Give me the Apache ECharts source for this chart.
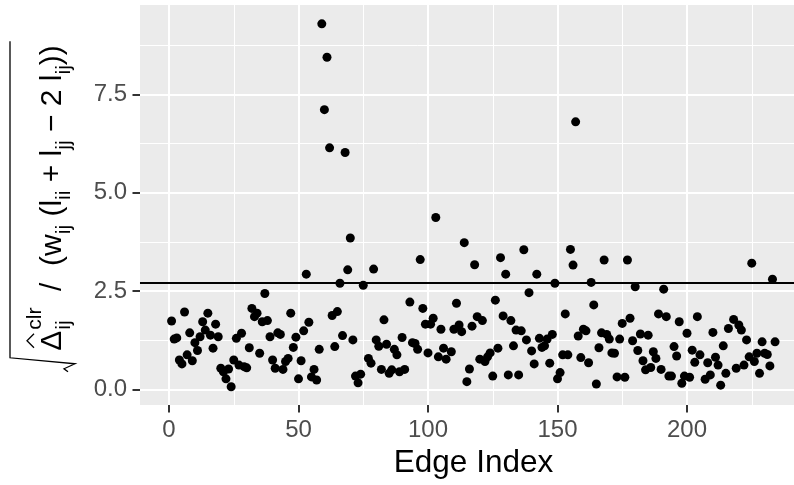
<!DOCTYPE html>
<html>
<head>
<meta charset="utf-8">
<script src="https://cdn.jsdelivr.net/npm/echarts@6/dist/echarts.min.js"></script>
<style>
  html, body { margin: 0; padding: 0; background: #fff; }
  #main { width: 794px; height: 485px; }
</style>
</head>
<body>
<div id="main"></div>
<script>
// values, one per edge index (1..234); null = not visible
const deltaValues = [
  1.74, 1.28, 1.31, 0.75, 0.65, 1.97, 0.88, 1.44, 0.73, 1.19,
  0.99, 1.34, 1.72, 1.51, 1.94, 1.38, 1.05, 1.66, 1.34, 0.54,
  0.45, 0.27, 0.52, 0.07, 0.75, 1.30, 0.62, 1.43, 0.58, 0.55,
  1.06, 2.06, 1.85, 1.94, 0.92, 1.72, 2.44, 1.75, 1.34, 0.75,
  0.54, 1.44, 1.40, 0.51, 0.71, 0.79, 1.94, 1.07, 1.33, 0.27,
  0.73, 1.49, 2.93, 1.71, 0.32, 0.51, 0.24, 1.02, 9.29, 7.11,
  8.44, 6.14, 1.88, 1.09, 1.98, 2.70, 1.37, 6.02, 3.04, 3.85,
  1.26, 0.34, 0.17, 0.39, 2.65, null, 0.79, 0.67, 3.06, 1.26,
  1.10, 0.51, 1.77, 1.15, 0.41, 0.50, 1.02, 0.88, 0.45, 1.32,
  0.51, null, 2.22, 1.19, 1.17, 1.02, 3.30, 2.06, 1.66, 0.93,
  1.66, 1.81, 4.37, 0.83, 1.53, 1.05, 0.77, null, 0.96, 1.53,
  2.19, 1.64, 1.47, 3.73, 0.20, 0.52, 1.61, 3.17, 1.85, 0.77,
  1.75, 0.71, 0.83, 0.93, 0.34, 2.27, 1.05, 3.35, 1.87, 2.93,
  0.37, 1.75, 1.11, 1.51, 0.37, 1.49, 3.55, 1.26, 2.46, 0.98,
  0.65, 2.93, 1.30, 1.07, 1.11, 1.28, 0.67, 1.40, 2.70, 0.27,
  0.43, 0.88, 1.92, 0.88, 3.56, 3.16, 6.80, 1.36, 0.81, 1.53,
  1.49, 0.68, 2.72, 2.15, 0.14, 1.06, 1.44, 3.29, 1.40, 1.28,
  0.93, 0.92, 0.32, 1.28, 1.68, 0.31, 3.29, 1.81, 1.24, 2.61,
  0.99, 1.41, 0.73, 0.50, 1.38, 0.56, 0.96, 0.79, 1.92, 0.51,
  2.55, 1.85, 0.34, 0.34, 1.09, 0.85, 1.72, 0.16, 0.34, 1.43,
  0.31, 1.00, 0.69, 1.85, 0.88, null, 0.26, 0.68, 0.37, 1.45,
  0.82, 0.62, 0.11, 1.11, 0.41, 1.55, null, 1.78, 0.54, 1.64,
  1.51, 0.62, 1.26, 0.83, 3.21, 0.71, 0.92, 0.41, 1.21, 0.92,
  0.89, 0.60, 2.80, 1.21
];
const threshold = 2.72;
const xTicks = [0, 50, 100, 150, 200];
const yTicks = [0, 2.5, 5, 7.5];

const FONT = '"Liberation Sans", Arial, Helvetica, sans-serif';
const points = [];
deltaValues.forEach(function (v, i) {
  if (v != null) points.push([i + 1, v]);
});

// panel (grey area) in pixels, and its x extent in data units
const panel = { x: 140, y: 5, w: 654, h: 400 };
const panelXRange = [-11.2, 241.5];

// ---- y axis title: sqrt( Delta-hat_ij^clr / (w_ij (l_ii + l_jj - 2 l_ij)) ) ----
const ctx = document.createElement('canvas').getContext('2d');
function tw(t, s) { ctx.font = s + 'px ' + FONT; return ctx.measureText(t).width; }
const MS = 30, SS = 21;
const deltaW = tw('\u0394', MS);
const scriptX = deltaW + 1;
const restX = scriptX + Math.max(tw('clr', SS), tw('ij', SS));
// the rest is one rich text; subscripts pushed down with the lineHeight trick
const restTokens = [
  ['m', '  /  (w'], ['s', 'ij'], ['m', ' (l'], ['s', 'ii'], ['m', ' + l'], ['s', 'jj'],
  ['m', ' \u2212 2 l'], ['s', 'ij'], ['m', '))']
];
let restW = 0;
restTokens.forEach(function (t) { restW += tw(t[1], t[0] === 'm' ? MS : SS); });
const restText = restTokens.map(function (t) { return '{' + t[0] + '|' + t[1] + '}'; }).join('');
const titleLen = restX + restW;
const rootTop = -53;
const titleChildren = [
  { type: 'text', z: 100, style: { text: '\u0394', x: 0, y: -0.33 * MS, font: MS + 'px ' + FONT, fill: '#000', align: 'left', verticalAlign: 'middle' } },
  { type: 'text', z: 100, style: { text: 'clr', x: scriptX, y: -21 - 0.33 * SS, font: SS + 'px ' + FONT, fill: '#000', align: 'left', verticalAlign: 'middle' } },
  { type: 'text', z: 100, style: { text: 'ij', x: scriptX, y: 8 - 0.33 * SS, font: SS + 'px ' + FONT, fill: '#000', align: 'left', verticalAlign: 'middle' } },
  {
    type: 'text', z: 100,
    style: {
      text: restText, x: restX, y: -22 - 0.33 * MS,
      align: 'left', verticalAlign: 'top', fill: '#000',
      rich: {
        m: { fontSize: MS, fontFamily: FONT, lineHeight: 44, verticalAlign: 'middle', fill: '#000' },
        s: { fontSize: SS, fontFamily: FONT, lineHeight: 22, verticalAlign: 'bottom', fill: '#000' }
      }
    }
  },
  {
    type: 'polyline', z: 100,
    shape: { points: [[3, -29], [deltaW / 2, -36], [deltaW - 3, -29]] },
    style: { stroke: '#000', lineWidth: 1.3, fill: null }
  },
  {
    type: 'polyline', z: 100,
    shape: { points: [[-21, 5], [-18, 1], [-13, 12], [-7, rootTop], [titleLen + 4, rootTop]] },
    style: { stroke: '#000', lineWidth: 1.3, fill: null }
  }
];
const titleStart = 205 + (titleLen + 28) / 2 - 21;

const chart = echarts.init(document.getElementById('main'), null, { renderer: 'canvas' });
const option = {
  animation: false,
  backgroundColor: '#fff',
  grid: {
    left: 39.5, right: -22.5, top: -4.1, bottom: -2.9,
    containLabel: false, outerBoundsMode: 'none'
  },
  xAxis: {
    type: 'value', min: -50, max: 250, interval: 50,
    offset: -82.9,
    axisLine: { show: false, onZero: false },
    axisTick: { show: true, length: 7.5, customValues: xTicks, lineStyle: { color: '#333', width: 2 } },
    axisLabel: { customValues: xTicks, fontSize: 24, color: '#4D4D4D', margin: 13, fontFamily: FONT },
    splitLine: { show: true, lineStyle: { color: '#fff', width: 2 } },
    minorTick: { show: false, splitNumber: 2 },
    minorSplitLine: { show: true, lineStyle: { color: '#fff', width: 1 } }
  },
  yAxis: {
    type: 'value', min: -2.5, max: 10, interval: 2.5,
    offset: -100.5,
    axisLine: { show: false, onZero: false },
    axisTick: { show: true, length: 7.5, customValues: yTicks, lineStyle: { color: '#333', width: 2 } },
    axisLabel: {
      customValues: yTicks, fontSize: 24, color: '#4D4D4D', margin: 13, fontFamily: FONT,
      formatter: function (v) { return v.toFixed(1); }
    },
    splitLine: { show: true, lineStyle: { color: '#fff', width: 2 } },
    minorTick: { show: false, splitNumber: 2 },
    minorSplitLine: { show: true, lineStyle: { color: '#fff', width: 1 } }
  },
  graphic: [
    {
      type: 'rect', z: -100, silent: true,
      shape: { x: panel.x, y: panel.y, width: panel.w, height: panel.h },
      style: { fill: '#EBEBEB' }
    },
    {
      type: 'text', silent: true, z: 100,
      style: {
        text: 'Edge Index', x: 473.5, y: 463,
        font: '31.5px ' + FONT, fill: '#000', align: 'center', verticalAlign: 'middle'
      }
    },
    {
      type: 'group', silent: true, z: 100,
      x: 63, y: titleStart, rotation: Math.PI / 2,
      children: titleChildren
    }
  ],
  series: [
    {
      type: 'scatter',
      data: points,
      symbol: 'circle',
      symbolSize: 9,
      itemStyle: { color: '#000', opacity: 1 },
      markLine: {
        silent: true,
        symbol: 'none',
        label: { show: false },
        lineStyle: { color: '#000', width: 1.8, type: 'solid' },
        data: [[{ coord: [panelXRange[0], threshold] }, { coord: [panelXRange[1], threshold] }]]
      }
    }
  ]
};
chart.setOption(option);
window.addEventListener('resize', function () {
  chart.resize();
});
</script>
</body>
</html>
